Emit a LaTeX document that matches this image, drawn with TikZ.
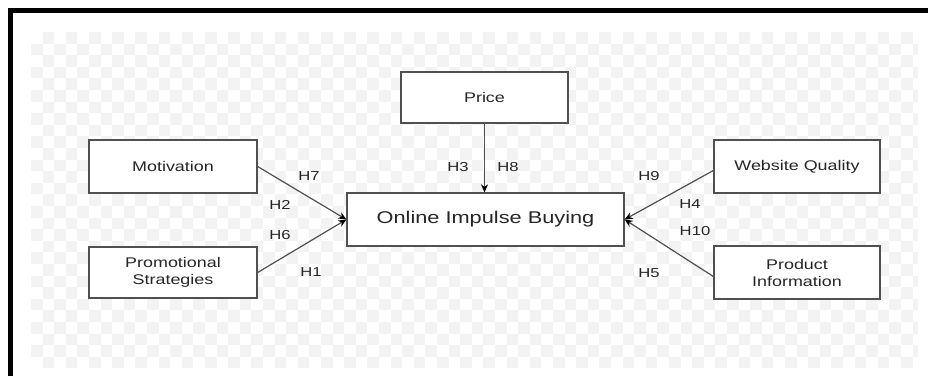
\documentclass[tikz,border=0pt]{standalone}
\usepackage{fontspec}
\setmainfont{Liberation Sans}
\usepackage{graphicx}
\usetikzlibrary{arrows.meta}
\newcommand\wide[1]{\scalebox{1.28}[1]{#1}}
\definecolor{txt}{HTML}{262626}
\definecolor{edge}{HTML}{505050}
\definecolor{chk}{HTML}{F3F3F3}
\tikzset{
  x=1pt, y=-1pt,
  box/.style={draw=edge, line width=1.3pt, fill=white, inner sep=0pt, align=center,
    text=txt, font=\fontsize{14}{14}\selectfont},
  hyp/.style={inner sep=0pt, text=txt, font=\fontsize{13}{13}\selectfont},
  link/.style={draw=edge, line width=1.2pt, -{Stealth[length=8pt,width=7pt,color=black]}}
}
\begin{document}
\begin{tikzpicture}
\useasboundingbox (0,0) rectangle (928,376);
\fill[white] (0,0) rectangle (928,376);
% faint checkerboard
\foreach \i in {0,...,76}{
  \foreach \j in {0,...,28}{
    \pgfmathtruncatemacro\myparity{mod(\i+\j,2)}
    \ifnum\myparity=1
      \fill[chk] ({31+\i*11.6},{32+\j*11.6}) rectangle ({min(918,31+(\i+1)*11.6)},{min(371,32+(\j+1)*11.6)});
    \fi
  }
}
% frame
\draw[line width=5pt, black] (10.5,376) -- (10.5,10.5) -- (928,10.5);

% boxes
\node[box, minimum width=168pt, minimum height=53pt] (mot) at (173,166.5) {\wide{Motivation}};
\node[box, minimum width=168pt, minimum height=51pt] (pro) at (173,272.5) {\wide{Promotional}\\[3pt]\wide{Strategies}};
\node[box, minimum width=167pt, minimum height=51pt] (price) at (484.5,97.5) {\wide{Price}};
\node[box, minimum width=277pt, minimum height=53pt, font=\fontsize{17}{17}\selectfont] (oib) at (485.5,219.5) {\wide{Online Impulse Buying}};
\node[box, minimum width=166pt, minimum height=53pt] (web) at (797,166.5) {\wide{Website Quality}};
\node[box, minimum width=166pt, minimum height=53pt] (prod) at (797,272.5) {\wide{Product}\\[3pt]\wide{Information}};

% connectors
\draw[link] (mot.east) -- (oib.west);
\draw[link] (pro.east) -- (oib.west);
\draw[link] (price.south) -- (oib.north -| price.south);
\draw[link] ([yshift=-4pt]web.west) -- (oib.east);
\draw[link] ([yshift=-4pt]prod.west) -- (oib.east);

% hypothesis labels
\node[hyp] (h7) at (309,176) {\wide{H7}};
\node[hyp] (h2) at (280,205) {\wide{H2}};
\node[hyp] (h6) at (280,235) {\wide{H6}};
\node[hyp] (h1) at (311,272) {\wide{H1}};
\node[hyp] (h3) at (458,167) {\wide{H3}};
\node[hyp] (h8) at (508,167) {\wide{H8}};
\node[hyp] (h9) at (649,176) {\wide{H9}};
\node[hyp] (h4) at (690,204) {\wide{H4}};
\node[hyp] (h10) at (695,231) {\wide{H10}};
\node[hyp] (h5) at (649,273) {\wide{H5}};
\end{tikzpicture}
\end{document}
